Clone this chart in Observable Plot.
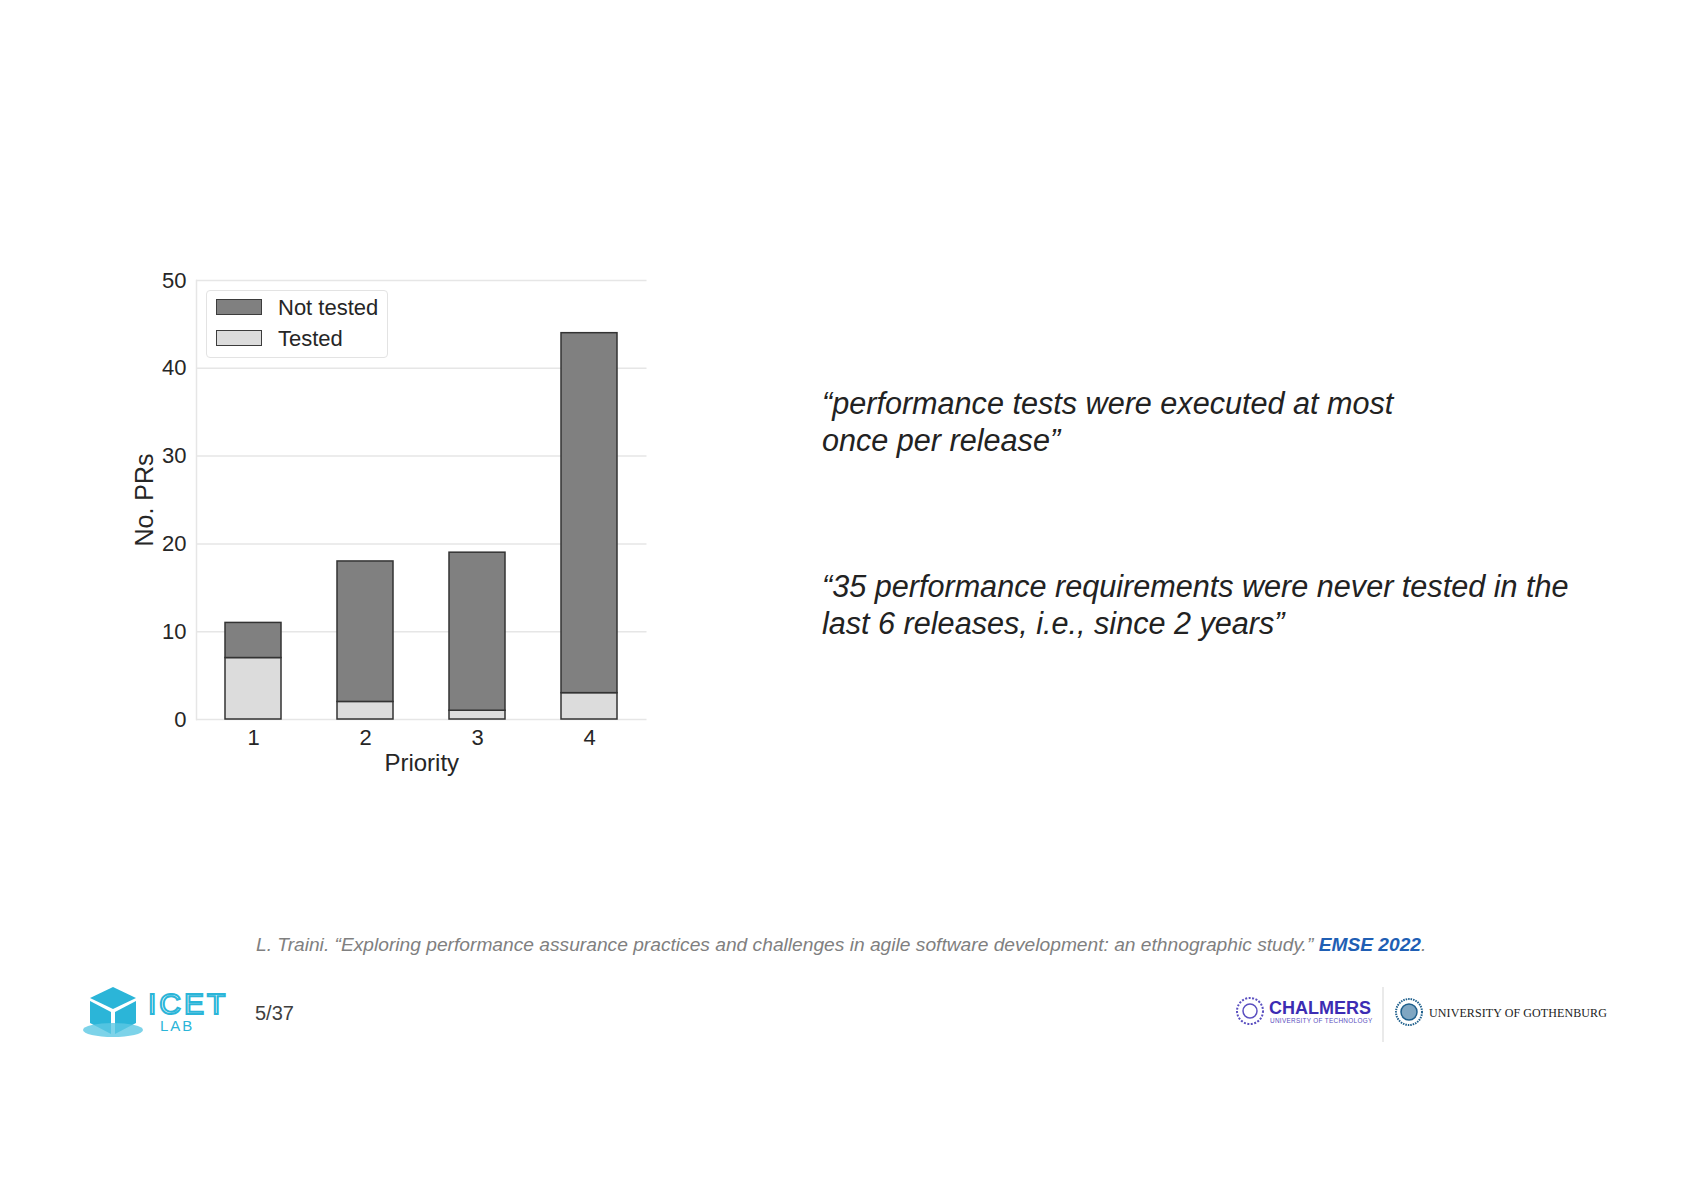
<!DOCTYPE html>
<html><head><meta charset="utf-8">
<script src="https://cdn.jsdelivr.net/npm/d3@7"></script>
<script src="https://cdn.jsdelivr.net/npm/@observablehq/plot@0.6"></script>
<style>
body{margin:0;background:#fff;font-family:"Liberation Sans",Arial,sans-serif;}
#page{position:relative;width:1684px;height:1190px;overflow:hidden;background:#fff;}
#chart{position:absolute;left:98px;top:249px;}
#legend{position:absolute;left:206px;top:290px;width:180px;height:66px;border:1.5px solid #e3e3e3;border-radius:4px;background:#fff;}
.item{position:absolute;left:9px;height:16px;}
.sw{position:absolute;left:0;top:0;width:44px;height:14px;border:1.5px solid #3c3c3c;}
.lt{position:absolute;left:62px;top:-4px;font-size:22px;color:#262626;white-space:nowrap;line-height:26px;}
.quote{position:absolute;left:822px;font-style:italic;font-size:30.6px;color:#222;line-height:36.5px;white-space:nowrap;}
#cite{position:absolute;left:256px;top:934px;font-style:italic;font-size:19.2px;color:#808080;white-space:nowrap;}
#cite b{color:#1f5fb4;}
#page-num{position:absolute;left:255px;top:1002px;font-size:20px;color:#404040;}
</style></head><body><div id="page">
<div id="chart"></div>
<div id="legend"></div>
<div class="quote" id="q1" style="top:385px">“performance tests were executed at most<br>once per release”</div>
<div class="quote" id="q2" style="top:568px">“35 performance requirements were never tested in the<br>last 6 releases, i.e., since 2 years”</div>
<div id="cite">L. Traini. “Exploring performance assurance practices and challenges in agile software development: an ethnographic study.” <b>EMSE 2022</b>.</div>
<svg style="position:absolute;left:80px;top:984px" width="160" height="56" viewBox="0 0 160 56">
  <polygon points="33,3 56,14 33,25 10,14" fill="#2bb5d8"/>
  <polygon points="10,17 31,28 31,50 10,39" fill="#2bb5d8"/>
  <polygon points="35,28 56,17 56,39 35,50" fill="#2bb5d8"/>
  <ellipse cx="33" cy="46" rx="30" ry="7" fill="#5cc8e4" opacity="0.8"/>
  <text x="68" y="30" font-family="Liberation Sans,Arial" font-size="30" fill="none" stroke="#2bb5d8" stroke-width="2" letter-spacing="3">ICET</text>
  <text x="80" y="47" font-family="Liberation Sans,Arial" font-size="15" fill="#2bb5d8" letter-spacing="2">LAB</text>
</svg>
<div id="page-num">5/37</div>
<svg style="position:absolute;left:1232px;top:984px" width="440" height="60" viewBox="0 0 440 60">
  <circle cx="18" cy="27" r="13" fill="none" stroke="#5a4fc0" stroke-width="2" stroke-dasharray="2 1.5"/>
  <circle cx="18" cy="27" r="7" fill="none" stroke="#5a4fc0" stroke-width="1.5"/>
  <text x="37" y="30" font-family="Liberation Sans,Arial" font-weight="bold" font-size="18" fill="#3c2db3">CHALMERS</text>
  <text x="38" y="39" font-family="Liberation Sans,Arial" font-size="6.4" fill="#5a4fc0" letter-spacing="0.3">UNIVERSITY OF TECHNOLOGY</text>
  <line x1="151" y1="3" x2="151" y2="58" stroke="#d5d5d5" stroke-width="1"/>
  <circle cx="177" cy="28" r="13" fill="none" stroke="#1e5f8c" stroke-width="2" stroke-dasharray="1.5 1"/>
  <circle cx="177" cy="28" r="8" fill="#7fa6c2" stroke="#1e5f8c" stroke-width="1.5"/>
  <text x="197" y="33" font-family="Liberation Serif,Times New Roman,serif" font-size="12" fill="#222" letter-spacing="0.1">UNIVERSITY OF GOTHENBURG</text>
</svg>
</div>
<script>
const priorities = ["1", "2", "3", "4"];
const testedCounts = [7, 2, 1, 3];
const notTestedCounts = [4, 16, 18, 41];
const statuses = ["Not tested", "Tested"];
const statusColors = ["#808080", "#dcdcdc"];
const yTicks = [0, 10, 20, 30, 40, 50];
const yLabel = "No. PRs";
const xLabel = "Priority";

const rows = [
  ...priorities.map((p, i) => ({priority: p, status: "Tested", count: testedCounts[i]})),
  ...priorities.map((p, i) => ({priority: p, status: "Not tested", count: notTestedCounts[i]}))
];

const chart = Plot.plot({
  width: 580, height: 540,
  marginLeft: 98, marginRight: 31.5, marginTop: 31, marginBottom: 70,
  style: {fontFamily: "Liberation Sans, Arial, sans-serif", fontSize: "22px", color: "#262626", background: "transparent", overflow: "visible"},
  x: {domain: priorities, paddingInner: 0.5, paddingOuter: 0.25, label: null},
  y: {domain: [0, 50], label: null},
  color: {domain: statuses, range: statusColors},
  marks: [
    Plot.gridY(yTicks, {stroke: "#e6e6e6", strokeOpacity: 1, strokeWidth: 1.5}),
    Plot.frame({anchor: "left", stroke: "#e6e6e6", strokeOpacity: 1, strokeWidth: 1.5}),
    Plot.axisY(yTicks, {tickSize: 0, tickPadding: 10, label: null, fontSize: 22, fill: "#262626"}),
    Plot.axisX({tickSize: 0, tickPadding: 10, label: null, fontSize: 22, fill: "#262626"}),
    Plot.barY(rows, {x: "priority", y: "count", fill: "status", stroke: "#333333", strokeWidth: 1.5}),
    Plot.text([yLabel], {text: d => d, frameAnchor: "left", textAnchor: "middle", lineAnchor: "middle", dx: -52, rotate: -90, fontSize: 25, fill: "#262626"}),
    Plot.text([xLabel], {text: d => d, frameAnchor: "bottom", textAnchor: "middle", lineAnchor: "middle", dy: 44, fontSize: 24, fill: "#262626"})
  ]
});
document.getElementById("chart").appendChild(chart);

const legend = document.getElementById("legend");
statuses.forEach((s, i) => {
  const item = document.createElement("div");
  item.className = "item";
  item.style.top = (8 + i * 31) + "px";
  item.innerHTML = `<div class="sw" style="background:${statusColors[i]}"></div><div class="lt">${s}</div>`;
  legend.appendChild(item);
});
</script>
</body></html>
